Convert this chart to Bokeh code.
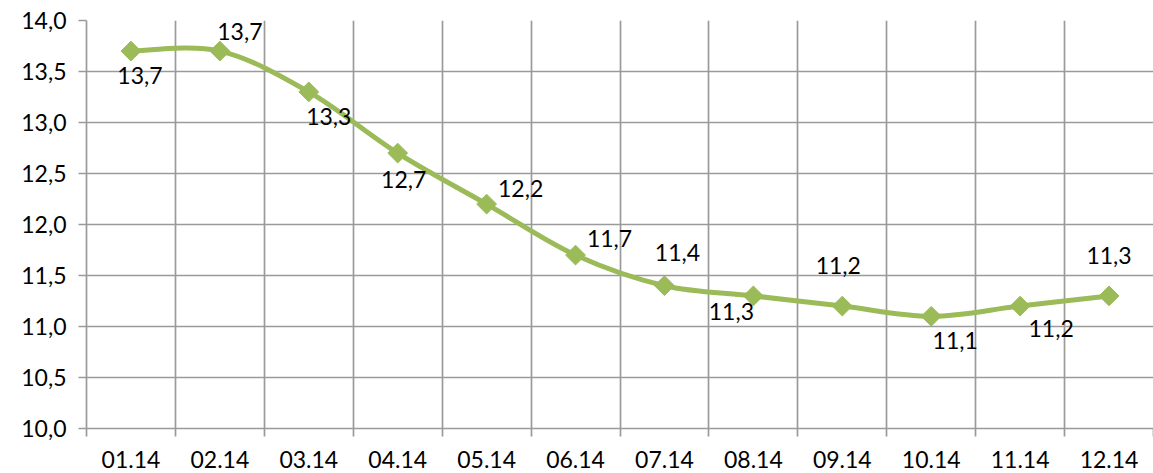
import numpy as np
from bokeh.plotting import figure
from bokeh.models import (ColumnDataSource, FixedTicker, Grid, LabelSet, Range1d)
from bokeh.core.properties import value
from bokeh.embed import file_html
from bokeh.resources import INLINE

months = ["01.14", "02.14", "03.14", "04.14", "05.14", "06.14",
          "07.14", "08.14", "09.14", "10.14", "11.14", "12.14"]
values = [13.7, 13.7, 13.3, 12.7, 12.2, 11.7, 11.4, 11.3, 11.2, 11.1, 11.2, 11.3]
y_ticks = [10.0, 10.5, 11.0, 11.5, 12.0, 12.5, 13.0, 13.5, 14.0]

# label placement (screen px): dx right, dy up
label_dx = [9, 20, 20, 6, 34, 34, 13, -22, -4, 24, 31, 0]
label_dy = [-24, 20, -25, -26, 16, 17, 33, -16, 41, -24, -22, 40]

FONT = "Lato"
GREEN = "#9BBB59"
GRID = "#9A9A9A"

n = len(months)
xs = np.arange(n) + 0.5
ys = np.array(values, dtype=float)

p = figure(width=1153, height=473, output_backend="svg", toolbar_location=None,
           x_range=Range1d(0, n), y_range=Range1d(10, 14),
           min_border_left=86, min_border_top=20, min_border_right=0,
           min_border_bottom=45)
p.outline_line_color = None
p.background_fill_color = "white"
p.border_fill_color = "white"

# grids
p.xgrid.visible = False
p.ygrid.visible = False
p.add_layout(Grid(dimension=0, ticker=FixedTicker(ticks=list(range(0, n))),
                  grid_line_color=GRID, grid_line_width=1.7))
p.add_layout(Grid(dimension=1, ticker=FixedTicker(ticks=y_ticks),
                  grid_line_color=GRID, grid_line_width=1.7))

# x axis: labels at centers, tick marks at boundaries (minor)
xa = p.xaxis[0]
xa.ticker = FixedTicker(ticks=list(xs), minor_ticks=list(range(0, n + 1)))
xa.major_label_overrides = {float(x): m for x, m in zip(xs, months)}
xa.major_tick_out = 0
xa.major_tick_in = 0
xa.minor_tick_out = 8
xa.minor_tick_in = 0
xa.minor_tick_line_color = GRID
xa.minor_tick_line_width = 1.7
xa.axis_line_color = GRID
xa.axis_line_width = 1.7
xa.major_label_text_font = FONT
xa.major_label_text_font_size = "23px"
xa.major_label_text_color = "black"
xa.major_label_standoff = 14

ya = p.yaxis[0]
ya.ticker = FixedTicker(ticks=y_ticks, minor_ticks=[])
ya.major_label_overrides = {t: f"{t:.1f}".replace(".", ",") for t in y_ticks}
ya.major_tick_out = 8
ya.major_tick_in = 0
ya.minor_tick_out = 0
ya.minor_tick_in = 0
ya.major_tick_line_color = GRID
ya.major_tick_line_width = 1.7
ya.axis_line_color = GRID
ya.axis_line_width = 1.7
ya.major_label_text_font = FONT
ya.major_label_text_font_size = "23px"
ya.major_label_text_color = "black"
ya.major_label_standoff = 12

# smoothed line (Catmull-Rom -> cubic Bezier)
x0, y0 = xs[:-1], ys[:-1]
x1, y1 = xs[1:], ys[1:]
yp = np.concatenate([[ys[0]], ys[:-2]])          # P(i-1)
yn = np.concatenate([ys[2:], [ys[-1]]])          # P(i+2)
xp = np.concatenate([[xs[0]], xs[:-2]])
xn = np.concatenate([xs[2:], [xs[-1]]])
cx0 = x0 + (x1 - xp) / 6.0
cy0 = y0 + (y1 - yp) / 6.0
cx1 = x1 - (xn - x0) / 6.0
cy1 = y1 - (yn - y0) / 6.0
p.bezier(x0=x0, y0=y0, x1=x1, y1=y1, cx0=cx0, cy0=cy0, cx1=cx1, cy1=cy1,
         line_color=GREEN, line_width=5)

p.scatter(xs, ys, marker="square", angle=np.pi / 4, size=14,
          fill_color=GREEN, line_color=GREEN)

src = ColumnDataSource(dict(x=xs, y=ys,
                            t=[f"{v:.1f}".replace(".", ",") for v in values],
                            dx=label_dx, dy=label_dy))
p.add_layout(LabelSet(x="x", y="y", text="t", source=src,
                      x_offset="dx", y_offset="dy",
                      text_align="center", text_baseline="middle",
                      text_font=value(FONT), text_font_size=value("23px"),
                      text_color="black"))

open("out.html", "w").write(file_html(p, INLINE))
